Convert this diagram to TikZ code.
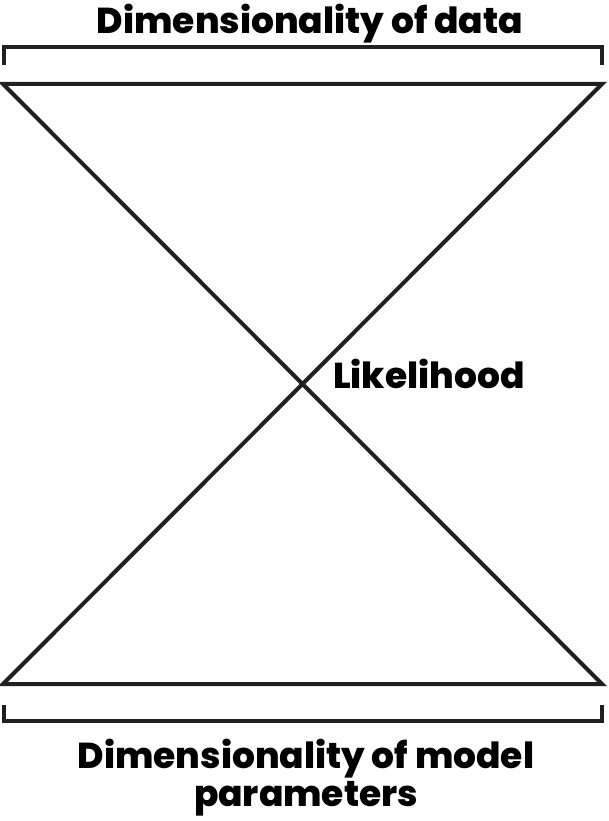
\documentclass[tikz,border=0pt]{standalone}
\usepackage{fontspec}
\setmainfont{Poppins}[BoldFont=* ExtraBold]
\usetikzlibrary{positioning}
\definecolor{ink}{HTML}{231F20}
\tikzset{
  edge/.style={draw=ink, line width=4pt, line cap=round},
  bracket/.style={draw=ink, line width=4pt},
  txt/.style={
    text=black, inner sep=0pt, align=center,
    font=\fontsize{36}{38}\selectfont\bfseries
  }
}

\begin{document}
\begin{tikzpicture}[x=1pt, y=-1pt]
        \useasboundingbox (0,0) rectangle (609,821);
        % hourglass corners
        \coordinate (tl) at (3,84);
        \coordinate (tr) at (602,84);
        \coordinate (bl) at (3,684);
        \coordinate (br) at (602,684);
        % brackets
        \coordinate (ta) at (4,65);
        \coordinate (tb) at (602,65);
        \coordinate (ba) at (4,705);
        \coordinate (bb) at (602,705);
        \draw[bracket] (ta) -- ++(0,-18) -| (tb);
        \draw[bracket] (ba) -- ++(0,16) -| (bb);
        \draw[edge] (tl) -- (tr) -- (bl) -- (br) -- cycle;
        \node[txt, anchor=base] (data) at (310,34) {Dimensionality of data};
        \node[txt, anchor=base west] (lik) at (333,388) {Likelihood};
        \node[txt, anchor=base] (par) at (306,806) {Dimensionality of model\\parameters};
      \end{tikzpicture}
\end{document}
